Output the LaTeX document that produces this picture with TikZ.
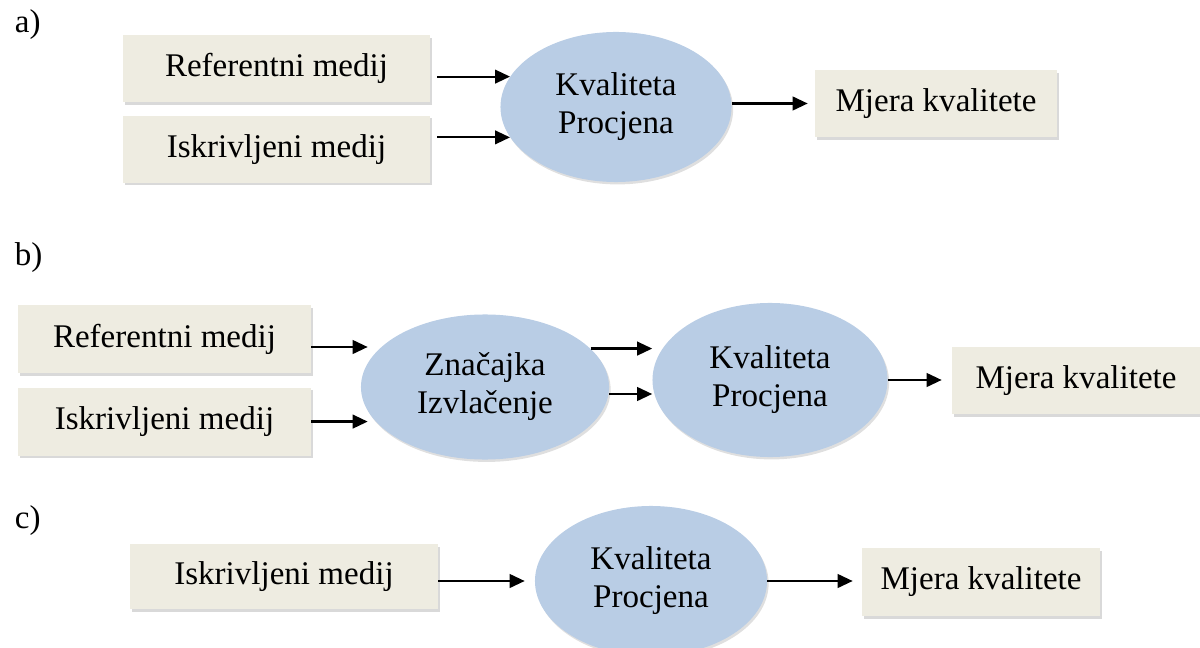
\documentclass[tikz,border=0pt]{standalone}
\usepackage{fontspec}
\setmainfont{Liberation Serif}
\usepackage{xcolor}
\usetikzlibrary{shapes,arrows.meta,positioning,shadows,calc}
\definecolor{boxfill}{HTML}{EEECE1}
\definecolor{ellfill}{HTML}{B9CDE5}

\begin{document}
\begin{tikzpicture}[
    x=0.025cm, y=-0.025cm,
    node distance=0.325cm,
    box/.style={fill=boxfill, inner sep=0pt, minimum height=1.675cm, text centered, font=\fontsize{23.5}{27}\selectfont, drop shadow={shadow xshift=0.05cm, shadow yshift=-0.07cm, opacity=0.3}},
    ell/.style={ellipse, fill=ellfill, inner sep=0pt, minimum width=5.8cm, minimum height=3.75cm, align=center, font=\fontsize{23.5}{27}\selectfont, drop shadow={shadow xshift=0.04cm, shadow yshift=-0.06cm, opacity=0.25}},
    arrow/.style={-{Triangle[length=0.375cm, width=0.34cm]}, line width=0.055cm},
    tag/.style={anchor=base west, font=\fontsize{23.5}{27}\selectfont}
]
    \useasboundingbox (0,0) rectangle (1200,648);

    % a)
    \node[tag] (tagA) at (10,33) {a)};
    \node[box, minimum width=7.675cm] (refA) at (276.5,68.5) {Referentni medij};
    \node[box, minimum width=7.675cm, below=of refA] (iskA) {Iskrivljeni medij};
    \node[ell, minimum width=5.775cm] (kvA) at (616,107) {Kvaliteta\\Procjena};
    \node[box, minimum width=6.05cm] (mjA) at (936,103.5) {Mjera kvalitete};

    \draw[arrow] ([xshift=0.175cm]refA.east |- kvA.164) -- (kvA.164);
    \draw[arrow] ([xshift=0.175cm]iskA.east |- kvA.196) -- (kvA.196);
    \draw[arrow] (kvA.east |- mjA) -- ([xshift=-0.175cm]mjA.west);

    % b)
    \node[tag] (tagB) at (10,266) {b)};
    \node[box, minimum width=7.325cm, minimum height=1.7cm] (refB) at (164.5,339) {Referentni medij};
    \node[box, minimum width=7.325cm, minimum height=1.7cm, below=0.35cm of refB] (iskB) {Iskrivljeni medij};
    \node[ell, minimum width=6.2cm, minimum height=3.625cm] (znB) at (485,387) {Značajka\\Izvlačenje};
    \node[ell, minimum width=5.875cm, minimum height=3.85cm] (kvB) at (770,380) {Kvaliteta\\Procjena};
    \node[box, minimum width=6.2cm] (mjB) at (1076,380.5) {Mjera kvalitete};

    \draw[arrow] ([yshift=-0.2cm]refB.east) -- ([xshift=0.175cm, yshift=-0.2cm]znB.west |- refB.east);
    \draw[arrow] (iskB.east) -- ([xshift=0.175cm]znB.west |- iskB.east);
    \draw[arrow] (znB.20) -- (kvB.west |- znB.20);
    \draw[arrow] ([yshift=-0.175cm]znB.east) -- ([yshift=-0.175cm]kvB.west |- znB.east);
    \draw[arrow] (kvB.east) -- ([xshift=-0.25cm]mjB.west |- kvB.east);

    % c)
    \node[tag] (tagC) at (10,528) {c)};
    \node[box, minimum width=7.7cm, minimum height=1.625cm] (iskC) at (284,576.5) {Iskrivljeni medij};
    \node[ell] (kvC) at (651,581) {Kvaliteta\\Procjena};
    \node[box, minimum width=5.95cm, minimum height=1.7cm] (mjC) at (981,582) {Mjera kvalitete};

    \draw[arrow] (iskC.east |- kvC) -- ([xshift=-0.25cm]kvC.west);
    \draw[arrow] (kvC.east) -- ([xshift=-0.225cm]mjC.west |- kvC);
\end{tikzpicture}
\end{document}
